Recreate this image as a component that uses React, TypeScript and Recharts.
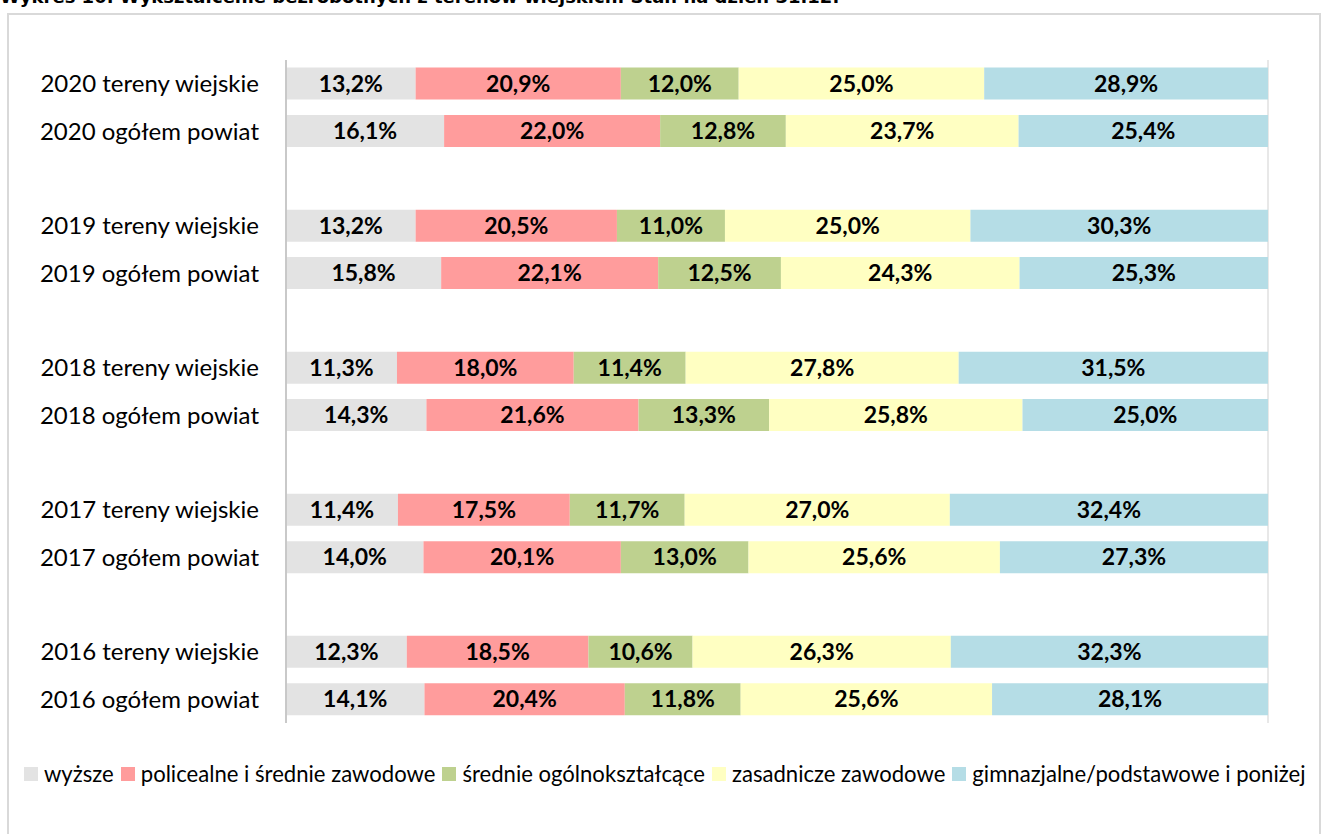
import { BarChart, Bar, XAxis, YAxis, CartesianGrid, LabelList } from "recharts"

// empty strings are the spacer rows between years
const categories = [
  "2020 tereny wiejskie", "2020 ogółem powiat", "",
  "2019 tereny wiejskie", "2019 ogółem powiat", "",
  "2018 tereny wiejskie", "2018 ogółem powiat", "",
  "2017 tereny wiejskie", "2017 ogółem powiat", "",
  "2016 tereny wiejskie", "2016 ogółem powiat",
]

const wyzsze = [13.2, 16.1, null, 13.2, 15.8, null, 11.3, 14.3, null, 11.4, 14.0, null, 12.3, 14.1]
const policealne = [20.9, 22.0, null, 20.5, 22.1, null, 18.0, 21.6, null, 17.5, 20.1, null, 18.5, 20.4]
const ogolnoksztalcace = [12.0, 12.8, null, 11.0, 12.5, null, 11.4, 13.3, null, 11.7, 13.0, null, 10.6, 11.8]
const zasadnicze = [25.0, 23.7, null, 25.0, 24.3, null, 27.8, 25.8, null, 27.0, 25.6, null, 26.3, 25.6]
const gimnazjalne = [28.9, 25.4, null, 30.3, 25.3, null, 31.5, 25.0, null, 32.4, 27.3, null, 32.3, 28.1]

const seriesNames = [
  "wyższe",
  "policealne i średnie zawodowe",
  "średnie ogólnokształcące",
  "zasadnicze zawodowe",
  "gimnazjalne/podstawowe i poniżej",
]
const colors = ["#e3e3e3", "#ff9c9c", "#bed18f", "#ffffc2", "#b5dde6"]
const seriesValues = [wyzsze, policealne, ogolnoksztalcace, zasadnicze, gimnazjalne]
const xTicks = [0, 20, 40, 60, 80, 100]

const data = categories.map((name, i) => {
  const row: Record<string, string | number | null> = { id: "c" + i, name }
  seriesValues.forEach((vals, s) => {
    row["s" + s] = vals[i]
  })
  return row
})

const font = "Lato, 'Open Sans', sans-serif"

const fmt = (v: any) => (v == null ? "" : Number(v).toFixed(1).replace(".", ",") + "%")

export default function App() {
  return (
    <div style={{ position: "absolute", left: 0, top: 0, width: 1324, height: 834, overflow: "hidden", background: "#fff", fontFamily: font }}>
      <div style={{ position: "absolute", left: 0, top: -14, fontFamily: "'DejaVu Sans', Verdana, sans-serif", fontWeight: "bold", fontSize: 18, whiteSpace: "nowrap" }}>
        Wykres 10. Wykształcenie bezrobotnych z terenów wiejskich. Stan na dzień 31.12.
      </div>
      <div style={{ position: "absolute", left: 7, top: 13, width: 1314, height: 840, border: "2px solid #d9d9d9", boxSizing: "border-box" }} />
      <div style={{ position: "absolute", left: 0, top: 0 }}>
        <BarChart
          width={1324}
          height={834}
          data={data}
          layout="vertical"
          margin={{ top: 60, right: 56, left: 0, bottom: 111 }}
          barCategoryGap="16%"
        >
          <CartesianGrid horizontal={false} stroke="#e0e0e0" strokeWidth={1.5} />
          <XAxis type="number" domain={[0, 100]} ticks={xTicks} tick={false} tickLine={false} axisLine={false} height={0} />
          <YAxis
            type="category"
            dataKey="id"
            width={286}
            tickFormatter={(v: string) => categories[Number(String(v).slice(1))]}
            tick={{ fill: "#000", fontSize: 24, fontFamily: font }}
            tickLine={false}
            tickSize={0}
            tickMargin={27}
            axisLine={{ stroke: "#bfbfbf", strokeWidth: 1.5 }}
            interval={0}
          />
          {seriesNames.map((n, s) => (
            <Bar key={n} dataKey={"s" + s} name={n} stackId="a" fill={colors[s]} isAnimationActive={false}>
              <LabelList
                dataKey={"s" + s}
                position="center"
                formatter={fmt}
                style={{ fill: "#000", fontSize: 23, fontWeight: "bold", fontFamily: font }}
              />
            </Bar>
          ))}
        </BarChart>
      </div>
      <div style={{ position: "absolute", left: 24, top: 760, display: "flex", alignItems: "center", fontSize: 22.1, color: "#000", whiteSpace: "nowrap" }}>
        {seriesNames.map((n, s) => (
          <div key={n} style={{ display: "flex", alignItems: "center", marginRight: 7 }}>
            <span style={{ display: "inline-block", width: 14, height: 14, background: colors[s], marginRight: 6 }} />
            <span>{n}</span>
          </div>
        ))}
      </div>
    </div>
  )
}
